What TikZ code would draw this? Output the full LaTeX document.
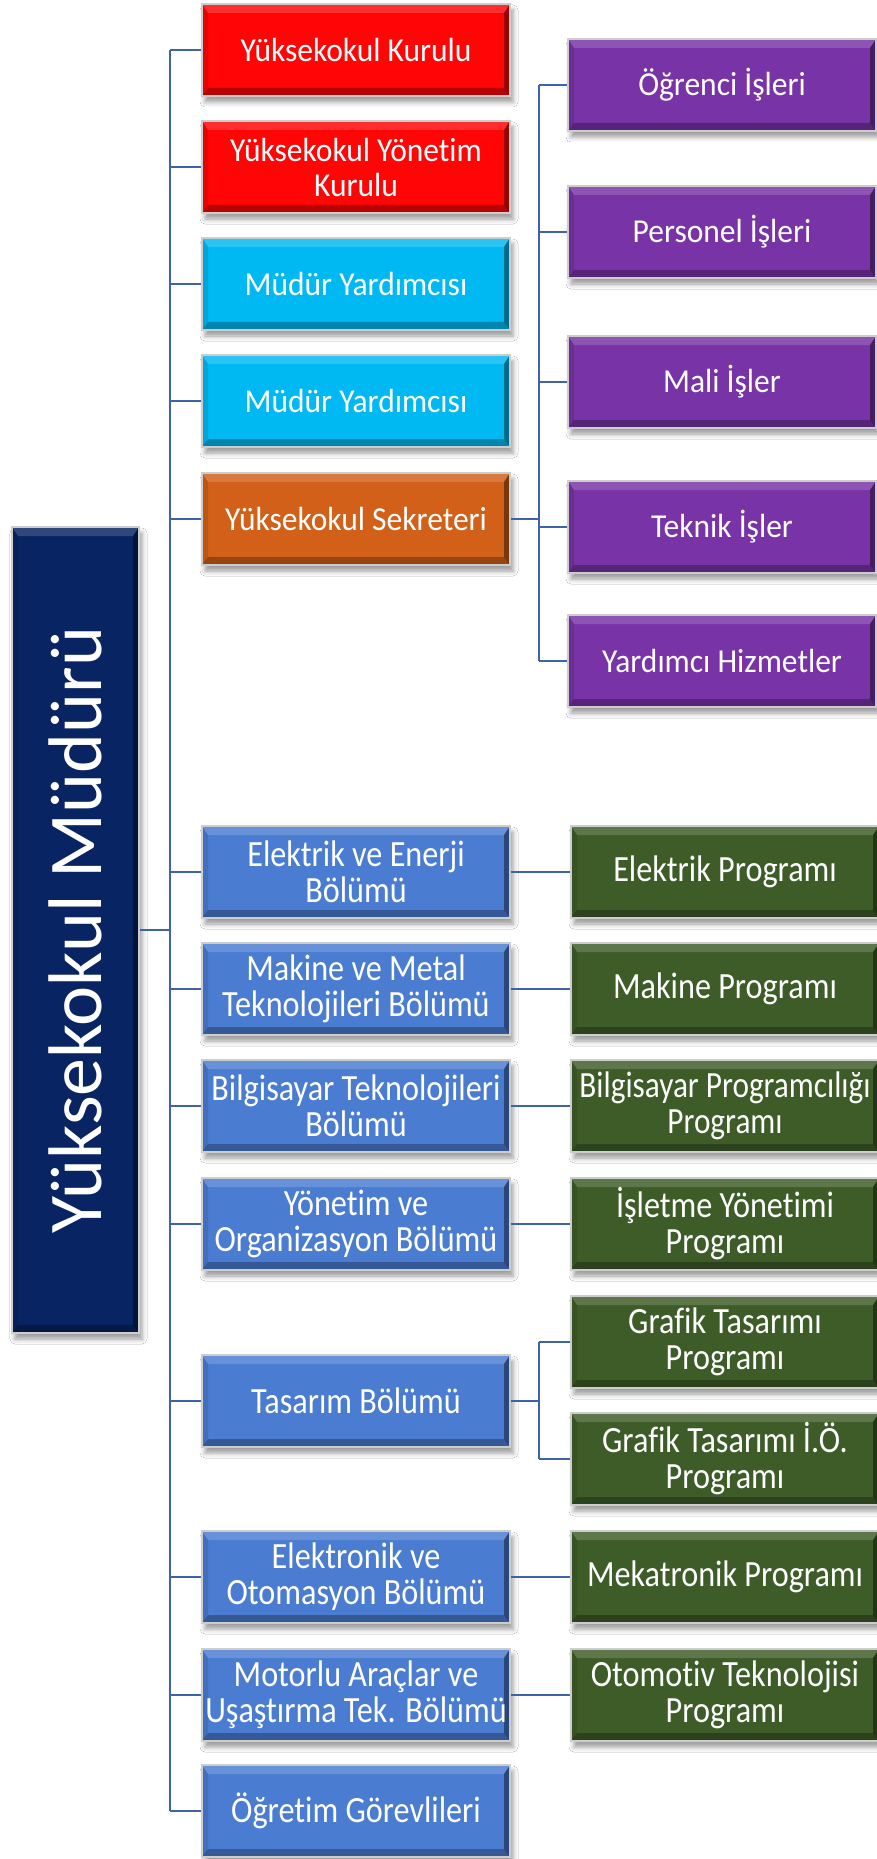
\documentclass[tikz,border=0pt]{standalone}
\usepackage{fontspec}
\setmainfont[Ligatures=NoCommon]{Carlito}
\newfontfamily\topf[FakeStretch=0.94,Ligatures=NoCommon]{Carlito}
\newfontfamily\botf[FakeStretch=0.87,Ligatures=NoCommon]{Carlito}
\newfontfamily\botnf[FakeStretch=0.845,Ligatures=NoCommon]{Carlito}
\usetikzlibrary{shadows.blur}
\definecolor{cred}{RGB}{255,5,5}
\definecolor{ccyan}{RGB}{0,185,242}
\definecolor{corange}{RGB}{210,96,24}
\definecolor{cpurple}{RGB}{120,52,166}
\definecolor{cblue}{RGB}{74,124,210}
\definecolor{cgreen}{RGB}{62,92,40}
\definecolor{cnavy}{RGB}{8,36,98}
\definecolor{lineblue}{RGB}{63,99,170}
\definecolor{boxedge}{RGB}{205,205,205}
\tikzset{
  bevel/.style={path picture={
    \coordinate (ppa) at (path picture bounding box.north west);
    \coordinate (ppb) at (path picture bounding box.north east);
    \coordinate (ppc) at (path picture bounding box.south east);
    \coordinate (ppd) at (path picture bounding box.south west);
    \fill[white,opacity=0.16] (ppa) -- (ppb) -- ([xshift=-6pt,yshift=-9pt]ppb) -- ([xshift=6pt,yshift=-9pt]ppa) -- cycle;
    \fill[black,opacity=0.28] (ppd) -- (ppc) -- ([xshift=-6pt,yshift=8pt]ppc) -- ([xshift=6pt,yshift=8pt]ppd) -- cycle;
    \fill[black,opacity=0.42] (ppb) -- (ppc) -- ([xshift=-6pt,yshift=8pt]ppc) -- ([xshift=-6pt,yshift=-9pt]ppb) -- cycle;
    \fill[black,opacity=0.10] (ppa) -- (ppd) -- ([xshift=6pt,yshift=8pt]ppd) -- ([xshift=6pt,yshift=-9pt]ppa) -- cycle;
  }},
  box/.style={minimum width=308pt, minimum height=92pt, inner sep=0pt, align=center,
    text=white, draw=boxedge, line width=1.2pt,
    blur shadow={shadow xshift=3pt, shadow yshift=-6pt, shadow blur radius=5pt, shadow opacity=40},
    bevel},
  topbox/.style={box, font=\topf\fontsize{33.5}{35}\selectfont},
  botbox/.style={box, font=\botf\fontsize{37}{36}\selectfont},
  conn/.style={draw=lineblue, line width=2.2pt}
}
\begin{document}
\begin{tikzpicture}[x=1pt,y=-1pt]
\useasboundingbox (0,0) rectangle (877,1859);
\fill[white] (0,0) rectangle (877,1859);

% main
\node[box, fill=cnavy, minimum width=127pt, minimum height=806pt] (main) at (75.5,930)
  {\rotatebox{90}{\fontsize{76}{76}\selectfont Yüksekokul Müdürü}};

% upper column
\node[topbox, fill=cred] (b1) at (356,50) {Yüksekokul Kurulu};
\node[topbox, fill=cred] (b2) at (356,167) {Yüksekokul Yönetim\\Kurulu};
\node[topbox, fill=ccyan] (b3) at (356,284) {Müdür Yardımcısı};
\node[topbox, fill=ccyan] (b4) at (356,401) {Müdür Yardımcısı};
\node[topbox, fill=corange] (b5) at (356,519) {Yüksekokul Sekreteri};

% purple
\node[topbox, fill=cpurple] (p1) at (722,85) {Öğrenci İşleri};
\node[topbox, fill=cpurple] (p2) at (722,232) {Personel İşleri};
\node[topbox, fill=cpurple] (p3) at (722,382) {Mali İşler};
\node[topbox, fill=cpurple] (p4) at (722,527) {Teknik İşler};
\node[topbox, fill=cpurple] (p5) at (722,661) {Yardımcı Hizmetler};

% lower column
\node[botbox, fill=cblue] (b6) at (356,872) {Elektrik ve Enerji\\Bölümü};
\node[botbox, fill=cblue] (b7) at (356,989) {Makine ve Metal\\Teknolojileri Bölümü};
\node[botbox, fill=cblue] (b8) at (356,1106) {Bilgisayar Teknolojileri\\Bölümü};
\node[botbox, fill=cblue] (b9) at (356,1224) {Yönetim ve\\Organizasyon Bölümü};
\node[botbox, fill=cblue] (b10) at (356,1401) {Tasarım Bölümü};
\node[botbox, fill=cblue] (b11) at (356,1577) {Elektronik ve\\Otomasyon Bölümü};
\node[botbox, fill=cblue] (b12) at (356,1695) {Motorlu Araçlar ve\\Uşaştırma Tek. Bölümü};
\node[botbox, fill=cblue] (b13) at (356,1811) {Öğretim Görevlileri};

% green
\node[botbox, fill=cgreen] (g1) at (725,872) {Elektrik Programı};
\node[botbox, fill=cgreen] (g2) at (725,989) {Makine Programı};
\node[botbox, fill=cgreen, font=\botnf\fontsize{37}{36}\selectfont] (g3) at (725,1106) {Bilgisayar Programcılığı\\Programı};
\node[botbox, fill=cgreen] (g4) at (725,1224) {İşletme Yönetimi\\Programı};
\node[botbox, fill=cgreen] (g5) at (725,1342) {Grafik Tasarımı\\Programı};
\node[botbox, fill=cgreen] (g6) at (725,1459) {Grafik Tasarımı İ.Ö.\\Programı};
\node[botbox, fill=cgreen] (g7) at (725,1577) {Mekatronik Programı};
\node[botbox, fill=cgreen] (g8) at (725,1695) {Otomotiv Teknolojisi\\Programı};

% connectors
\coordinate (tr) at (170,0);
\coordinate (pr) at (539,0);
\draw[conn] (b1.west -| tr) -- (b13.west -| tr);
\foreach \n in {b1,b2,b3,b4,b5,b6,b7,b8,b9,b10,b11,b12,b13}
  \draw[conn] (\n.west) -- (\n.west -| tr);
\draw[conn] (main.east) -- (main.east -| tr);

\draw[conn] (b5.east) -- (b5.east -| pr);
\draw[conn] (p1.west -| pr) -- (p5.west -| pr);
\foreach \n in {p1,p2,p3,p4,p5}
  \draw[conn] (\n.west) -- (\n.west -| pr);

\draw[conn] (b6.east) -- (g1.west);
\draw[conn] (b7.east) -- (g2.west);
\draw[conn] (b8.east) -- (g3.west);
\draw[conn] (b9.east) -- (g4.west);
\draw[conn] (b10.east) -- (b10.east -| pr);
\draw[conn] (g5.west -| pr) -- (g6.west -| pr);
\draw[conn] (g5.west) -- (g5.west -| pr);
\draw[conn] (g6.west) -- (g6.west -| pr);
\draw[conn] (b11.east) -- (g7.west);
\draw[conn] (b12.east) -- (g8.west);
\end{tikzpicture}
\end{document}
